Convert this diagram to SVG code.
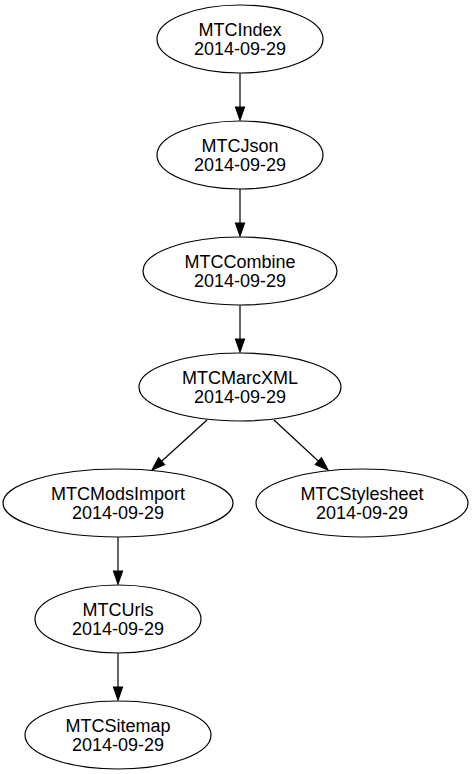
<svg xmlns="http://www.w3.org/2000/svg" width="472" height="774" viewBox="0 0 472 774">
<style>
.n ellipse{fill:#fff;stroke:#000;stroke-width:1.2}
.n text{font-family:"Liberation Sans",Arial,sans-serif;font-size:18px;text-anchor:middle;fill:#000}
.e line{stroke:#000;stroke-width:1.2}
.e polygon{fill:#000;stroke:#000;stroke-width:1.2}
</style>
<rect width="472" height="774" fill="#fff"/>
<g id="edges" class="e">
<line x1="240" y1="73" x2="240" y2="107"/><polygon points="235.5,107 244.5,107 240,120"/>
<line x1="240" y1="189" x2="240" y2="223"/><polygon points="235.5,223 244.5,223 240,236"/>
<line x1="240" y1="305" x2="240" y2="339"/><polygon points="235.5,339 244.5,339 240,352"/>
<line x1="207" y1="420" x2="161.6" y2="461.2"/><polygon points="164.6,464.6 158.6,457.9 152,470"/>
<line x1="274" y1="420" x2="318.5" y2="461.2"/><polygon points="315.4,464.5 321.5,457.9 328,470"/>
<line x1="118" y1="537" x2="118" y2="571"/><polygon points="113.5,571 122.5,571 118,584"/>
<line x1="118" y1="653" x2="118" y2="687"/><polygon points="113.5,687 122.5,687 118,700"/>
</g>
<g id="MTCIndex" class="n"><ellipse cx="240" cy="39" rx="83" ry="34"/><text x="240" y="36">MTCIndex</text><text x="240" y="55">2014-09-29</text></g>
<g id="MTCJson" class="n"><ellipse cx="240" cy="155" rx="83" ry="34"/><text x="240" y="152">MTCJson</text><text x="240" y="171">2014-09-29</text></g>
<g id="MTCCombine" class="n"><ellipse cx="240" cy="271" rx="97" ry="34"/><text x="240" y="268">MTCCombine</text><text x="240" y="287">2014-09-29</text></g>
<g id="MTCMarcXML" class="n"><ellipse cx="240" cy="387" rx="101" ry="34"/><text x="240" y="384">MTCMarcXML</text><text x="240" y="403">2014-09-29</text></g>
<g id="MTCModsImport" class="n"><ellipse cx="118" cy="503" rx="115" ry="34"/><text x="118" y="500">MTCModsImport</text><text x="118" y="519">2014-09-29</text></g>
<g id="MTCStylesheet" class="n"><ellipse cx="362" cy="503" rx="106" ry="34"/><text x="362" y="500">MTCStylesheet</text><text x="362" y="519">2014-09-29</text></g>
<g id="MTCUrls" class="n"><ellipse cx="118" cy="619" rx="83" ry="34"/><text x="118" y="616">MTCUrls</text><text x="118" y="635">2014-09-29</text></g>
<g id="MTCSitemap" class="n"><ellipse cx="118" cy="735" rx="93" ry="34"/><text x="118" y="732">MTCSitemap</text><text x="118" y="751">2014-09-29</text></g>
</svg>
